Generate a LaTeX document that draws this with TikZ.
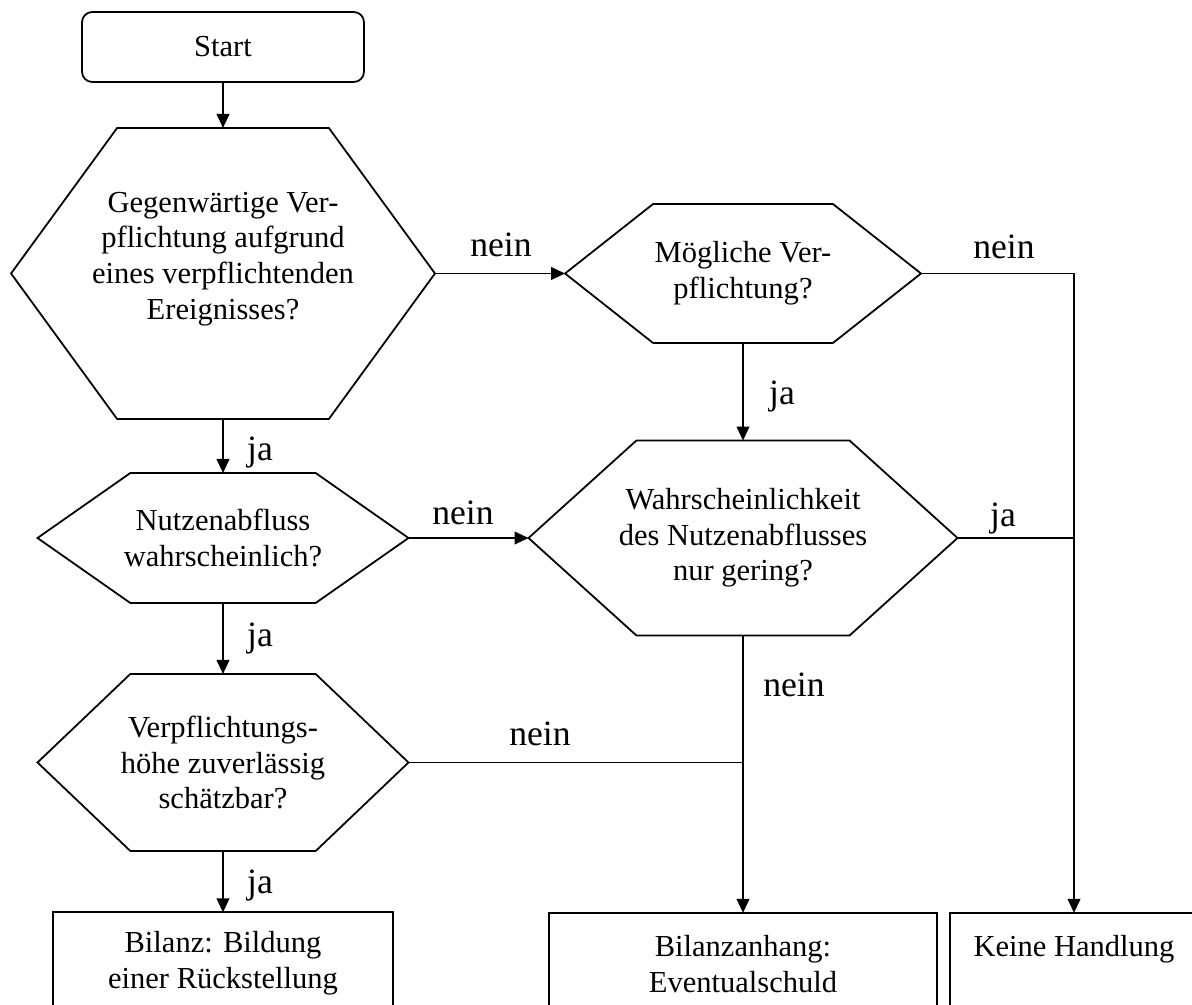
\documentclass[tikz,border=0pt]{standalone}
\usepackage{fontspec}
\setmainfont{Liberation Serif}
\usetikzlibrary{arrows.meta}
\begin{document}
\begin{tikzpicture}[x=0.393pt, y=-0.393pt, line width=0.7pt,
    every node/.style={inner sep=0pt, outer sep=0pt, align=center,
      font=\fontsize{12pt}{14pt}\selectfont},
    box/.style={draw, minimum height=40.2pt},
    lbl/.style={anchor=base, font=\fontsize{14pt}{16pt}\selectfont},
    arr/.style={-{Triangle[length=5.5pt,width=5pt]}}]
	  \useasboundingbox (0,0) rectangle (1192,1005);
	  \clip (0,0) rectangle (1192,1005);

	  \node[draw, rounded corners=4pt, minimum width=110.8pt, minimum height=27.5pt] (S) at (223,47) {Start};

	  \node[minimum width=166.6pt, minimum height=114.4pt] (F1) at (223,273.5) {Gegenwärtige Ver-\\pflichtung aufgrund\\eines verpflichtenden\\Ereignisses?\\~};
	  \node[minimum width=139.9pt, minimum height=54.6pt] (F2) at (743,273.5) {Mögliche Ver-\\pflichtung?};
	  \node[minimum width=168.6pt, minimum height=76.6pt] (F3) at (743,538) {Wahrscheinlichkeit\\des Nutzenabflusses\\nur gering?};
	  \node[minimum width=145.8pt, minimum height=51.1pt] (F4) at (223,538) {Nutzenabfluss\\wahrscheinlich?};
	  \node[minimum width=145.8pt, minimum height=69.6pt] (F5) at (223,762.5) {Verpflichtungs-\\höhe zuverlässig\\schätzbar?};

	  \foreach \n/\d in {F1/41.7pt, F2/34.6pt, F3/42.4pt, F4/36.5pt, F5/36.5pt}
	    \draw (\n.west) -- ([xshift=\d]\n.north west) -- ([xshift=-\d]\n.north east) -- (\n.east)
	      -- ([xshift=-\d]\n.south east) -- ([xshift=\d]\n.south west) -- cycle;

	  \node[box, minimum width=133.6pt] (B1) at (223,963.5) {Bilanz: Bildung\\einer Rückstellung};
	  \node[box, minimum width=152.5pt] (B2) at (743,964) {Bilanzanhang:\\Eventualschuld};
	  \node[box, minimum width=97.5pt] (B3) at (1074,964) {Keine Handlung\\~};

	  \draw[arr] (S) -- (F1);
	  \draw[arr] (F1) -- (F2);
	  \draw[arr] (F1) -- (F4);
	  \draw[arr] (F4) -- (F3);
	  \draw[arr] (F4) -- (F5);
	  \draw[arr] (F5) -- (B1);
	  \draw[arr] (F2) -- (F3);
	  \draw[arr] (F3) -- (B2);
	  \draw[arr] (F2.east) -| (B3.north);
	  \draw (F3.east) -- (F3.east -| B3.north);
	  \draw (F5.east) -- (F5.east -| B2.north);

	  \node[lbl] (n1) at (501,257) {nein};
	  \node[lbl] (n2) at (1004,259) {nein};
	  \node[lbl] (n3) at (463,525) {nein};
	  \node[lbl] (n4) at (794,697) {nein};
	  \node[lbl] (n5) at (540,745) {nein};
	  \node[lbl] (j1) at (782,405) {ja};
	  \node[lbl] (j2) at (1003,527) {ja};
	  \node[lbl] (j3) at (260,461) {ja};
	  \node[lbl] (j4) at (260,647) {ja};
	  \node[lbl] (j5) at (260,893) {ja};
	  \end{tikzpicture}
\end{document}
